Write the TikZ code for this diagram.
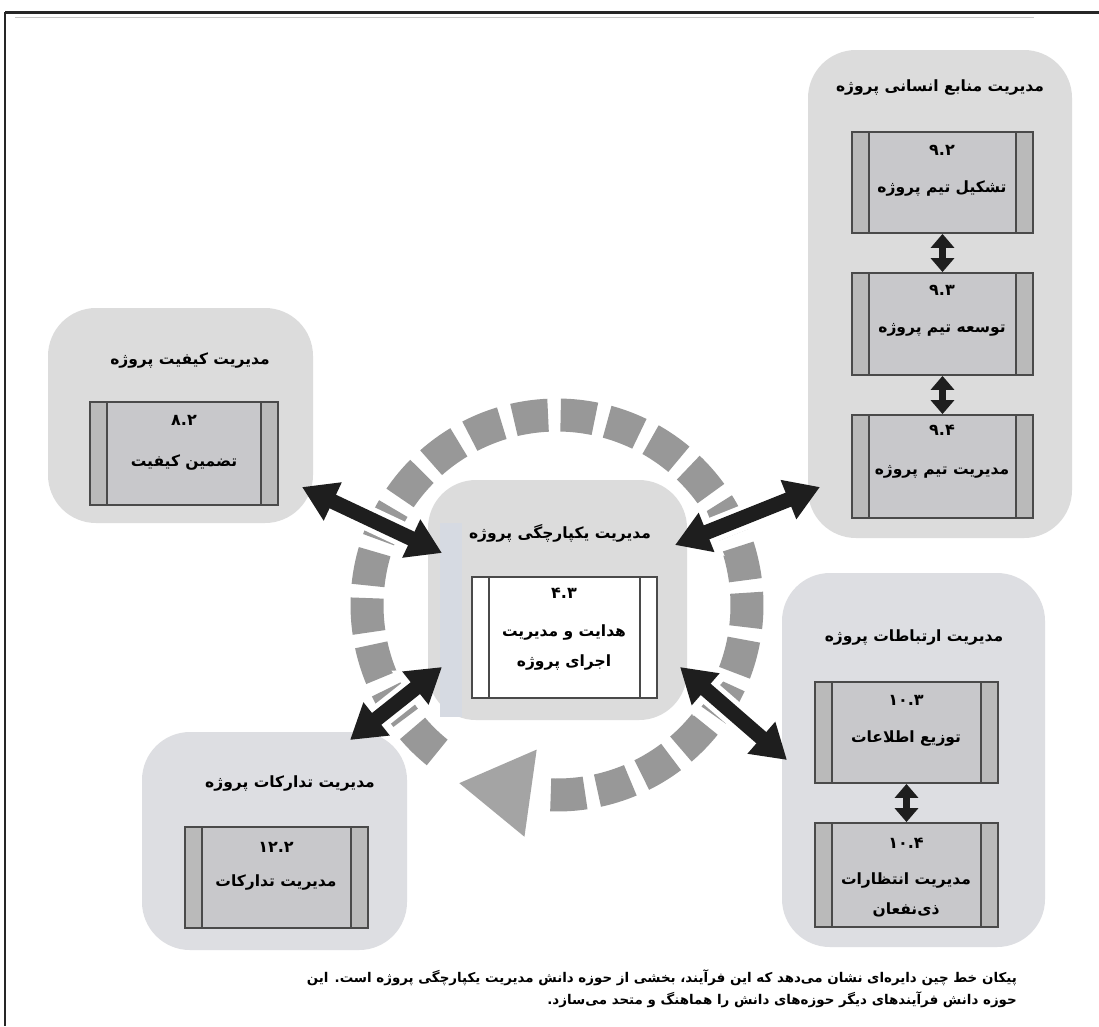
\documentclass[tikz,border=0pt]{standalone}
\usepackage{fontspec}
\newfontfamily\fa[Script=Arabic]{DejaVu Sans}
\TeXXeTstate=1
\usetikzlibrary{arrows.meta,calc}

\definecolor{grp}{HTML}{DCDCDC}
\definecolor{grpb}{HTML}{DDDEE2}
\definecolor{pfill}{HTML}{C8C8CB}
\definecolor{pside}{HTML}{BABABA}
\definecolor{edge}{HTML}{4A4A4A}
\definecolor{ringc}{HTML}{989898}
\definecolor{ringhead}{HTML}{A4A4A4}
\definecolor{strip}{HTML}{D6DAE2}
\definecolor{arrowc}{HTML}{1E1E1E}

\tikzset{
  group/.style={fill=#1, draw=none, rounded corners=48pt, inner sep=0pt},
  group/.default=grp,
  procbox/.style={draw=edge, line width=1.8pt, fill=#1, inner sep=0pt,
    path picture={
      \fill[pside] (path picture bounding box.south west) rectangle ([xshift=17pt]path picture bounding box.north west);
      \fill[pside] (path picture bounding box.south east) rectangle ([xshift=-17pt]path picture bounding box.north east);
      \draw[edge, line width=1.4pt] ([xshift=17pt]path picture bounding box.south west) -- ([xshift=17pt]path picture bounding box.north west);
      \draw[edge, line width=1.4pt] ([xshift=-17pt]path picture bounding box.south east) -- ([xshift=-17pt]path picture bounding box.north east);
    }},
  procbox/.default=pfill,
  mainbox/.style={draw=edge, line width=1.8pt, fill=white, inner sep=0pt,
    path picture={
      \draw[edge, line width=1.4pt] ([xshift=17pt]path picture bounding box.south west) -- ([xshift=17pt]path picture bounding box.north west);
      \draw[edge, line width=1.4pt] ([xshift=-17pt]path picture bounding box.south east) -- ([xshift=-17pt]path picture bounding box.north east);
    }},
  ttl/.style={font=\fa\bfseries\fontsize{15.5}{18}\selectfont, inner sep=0pt},
  num/.style={font=\fa\bfseries\fontsize{16}{18}\selectfont, inner sep=0pt},
  lbl/.style={font=\fa\bfseries\fontsize{15.5}{30}\selectfont, align=center, inner sep=0pt},
  captxt/.style={font=\fa\bfseries\fontsize{13.4}{16}\selectfont, anchor=east, inner sep=0pt},
  halo/.style={white, line width=25pt,
    {Triangle[width=54pt,length=42pt]}-{Triangle[width=54pt,length=42pt]}},
  bigarrow/.style={arrowc, line width=15pt,
    {Triangle[width=40pt,length=34pt]}-{Triangle[width=40pt,length=34pt]}},
  smallarrow/.style={arrowc, line width=7pt,
    {Triangle[width=23pt,length=14pt]}-{Triangle[width=23pt,length=14pt]}},
}

\begin{document}
\begin{tikzpicture}[x=1pt,y=-1pt]
\useasboundingbox (0,0) rectangle (1099,1026);
\fill[white] (0,0) rectangle (1099,1026);

% page frame
\draw[gray!45, line width=1pt] (15,17) -- (1034,17);
\draw[black!85, line width=3pt] (5,12) -- (1099,12);
\draw[black!85, line width=2pt] (5,12) -- (5,1026);

% circular dashed arrow round the integration area
\begin{scope}[shift={(557,605)}]
  \foreach \k in {-16,...,6}{
    \pgfmathsetmacro{\a}{1.5+14.2*\k}
    \fill[ringc] (\a-5.2:173.5) arc[start angle=\a-5.2, end angle=\a+5.2, radius=173.5]
      -- (\a+5.2:206.5) arc[start angle=\a+5.2, end angle=\a-5.2, radius=206.5] -- cycle;
  }
  % head of the ring, pointing along the tangent
  \fill[ringhead] (98:146) -- (98:234) -- ($(98:190)+(188:72)$) -- cycle;
\end{scope}

% arrow end points
\coordinate (q1) at (302,487);
\coordinate (c1) at (442,553);
\coordinate (h1) at (820,487);
\coordinate (c2) at (675,545);
\coordinate (p1) at (350,740);
\coordinate (c3) at (442,667);
\coordinate (m1) at (787,760);
\coordinate (c4) at (680,667);

% white outlines where the arrows cross the ring
\draw[halo] (q1) -- (c1);
\draw[halo] (h1) -- (c2);
\draw[halo] (p1) -- (c3);
\draw[halo] (m1) -- (c4);

% knowledge areas
\node[group, minimum width=264pt, minimum height=488pt] (hr) at (940,294) {};
\node[group, minimum width=265pt, minimum height=215pt] (qual) at (180.5,415.5) {};
\node[group, minimum width=259pt, minimum height=240pt] (integ) at (557.5,600) {};
\node[group=grpb, minimum width=263pt, minimum height=374pt] (comm) at (913.5,760) {};
\node[group=grpb, minimum width=265pt, minimum height=218pt] (proc) at (274.5,841) {};
\fill[strip] (440,523) rectangle (462,717);

% area titles
\node[ttl] (hrT) at (940,87) {\beginR مدیریت منابع انسانی پروژه\endR};
\node[ttl] (qualT) at (190,360) {\beginR مدیریت کیفیت پروژه\endR};
\node[ttl] (integT) at (560,533) {\beginR مدیریت یکپارچگی پروژه\endR};
\node[ttl] (commT) at (914,637) {\beginR مدیریت ارتباطات پروژه\endR};
\node[ttl] (procT) at (290,783) {\beginR مدیریت تدارکات پروژه\endR};

% processes
\node[procbox, minimum width=181pt, minimum height=101pt] (b92) at (942.5,182.5) {};
\node[procbox, minimum width=181pt, minimum height=102pt] (b93) at (942.5,324) {};
\node[procbox, minimum width=181pt, minimum height=103pt] (b94) at (942.5,466.5) {};
\node[procbox, minimum width=188pt, minimum height=103pt] (b82) at (184,453.5) {};
\node[mainbox, minimum width=185pt, minimum height=121pt] (b43) at (564.5,637.5) {};
\node[procbox, minimum width=183pt, minimum height=101pt] (b103) at (906.5,732.5) {};
\node[procbox, minimum width=183pt, minimum height=104pt] (b104) at (906.5,875) {};
\node[procbox, minimum width=183pt, minimum height=101pt] (b122) at (276.5,877.5) {};

\node[num] (n92) at (942,150) {۹.۲};
\node[lbl] (t92) at (942,188) {\beginR تشکیل تیم پروژه\endR};
\node[num] (n93) at (942,290) {۹.۳};
\node[lbl] (t93) at (942,330) {\beginR توسعه تیم پروژه\endR};
\node[num] (n94) at (942,430) {۹.۴};
\node[lbl] (t94) at (942,472) {\beginR مدیریت تیم پروژه\endR};
\node[num] (n82) at (184,420) {۸.۲};
\node[lbl] (t82) at (184,462) {\beginR تضمین کیفیت\endR};
\node[num] (n43) at (564,593) {۴.۳};
\node[lbl] (t43) at (564,647) {\beginR هدایت و مدیریت\endR\\\beginR اجرای پروژه\endR};
\node[num] (n103) at (906,700) {۱۰.۳};
\node[lbl] (t103) at (906,738) {\beginR توزیع اطلاعات\endR};
\node[num] (n104) at (906,843) {۱۰.۴};
\node[lbl] (t104) at (906,895) {\beginR مدیریت انتظارات\endR\\\beginR ذی^^^^200cنفعان\endR};
\node[num] (n122) at (276,847) {۱۲.۲};
\node[lbl] (t122) at (276,882) {\beginR مدیریت تدارکات\endR};

% links between processes of one area
\draw[smallarrow] (b92.south) -- (b93.north);
\draw[smallarrow] (b93.south) -- (b94.north);
\draw[smallarrow] (b103.south) -- (b104.north);

% links to the integration area
\draw[bigarrow] (q1) -- (c1);
\draw[bigarrow] (h1) -- (c2);
\draw[bigarrow] (p1) -- (c3);
\draw[bigarrow] (m1) -- (c4);

% caption
\node[captxt] (cap1) at (1017,978) {\beginR پیکان خط چین دایره^^^^200cای نشان می^^^^200cدهد که این فرآیند، بخشی از حوزه دانش مدیریت یکپارچگی پروژه است. این\endR};
\node[captxt] (cap2) at (1017,1000) {\beginR حوزه دانش فرآیندهای دیگر حوزه^^^^200cهای دانش را هماهنگ و متحد می^^^^200cسازد.\endR};
\end{tikzpicture}
\end{document}
